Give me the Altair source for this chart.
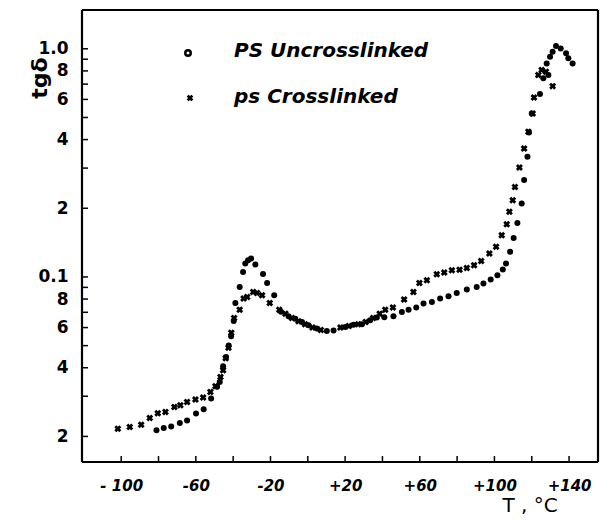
import altair as alt
import pandas as pd

# ---- data ----
unc_T = [-81.1, -77.2, -73.2, -68.6, -64.7, -59.9, -55.8, -51.8, -48.6, -47.2, -45.4, -43.8,
         -42.4, -41.1, -39.7, -38.8, -36.5, -34.7, -33.5, -32.0, -30.4, -28.1, -24.0, -21.8,
         -18.0, -14.4, -10.3, -6.7, -3.1, 0.4, 4.9, 10.2, 13.8, 20.1, 24.5, 29.0, 33.4, 37.0,
         41.0, 45.9, 50.4, 54.0, 58.1, 62.0, 66.5, 70.9, 75.4, 79.8, 85.2, 90.5, 94.1, 98.0,
         101.6, 104.5, 106.2, 108.4, 110.3, 112.3, 114.6, 115.9, 117.7, 118.5, 120.0, 124.4,
         126.2, 128.9, 128.0, 129.8, 131.2, 133.0, 135.5, 138.4, 139.6, 141.9]
unc_v = [0.0213, 0.0218, 0.0221, 0.0229, 0.0235, 0.0252, 0.0263, 0.0293, 0.0330, 0.0346, 0.0406, 0.0446,
         0.0501, 0.0549, 0.0641, 0.0769, 0.0904, 0.105, 0.1145, 0.1183, 0.1204, 0.1133, 0.1030, 0.0941,
         0.0831, 0.0703, 0.0672, 0.0656, 0.0635, 0.0614, 0.0594, 0.0580, 0.0583, 0.0604, 0.0618, 0.0621, 0.0646, 0.0664,
         0.0665, 0.0672, 0.0702, 0.0719, 0.0734, 0.0764, 0.0777, 0.0804, 0.0823, 0.0851, 0.0881, 0.0904, 0.0935, 0.0975,
         0.1017, 0.1077, 0.1145, 0.129, 0.148, 0.1725, 0.210, 0.266, 0.336, 0.43, 0.521, 0.633,
         0.742, 0.767, 0.863, 0.922, 0.970, 1.028, 1.004, 0.955, 0.908, 0.863]

cl_T = [-101.8, -95.4, -89.3, -84.7, -80.4, -76.3, -71.5, -68.3, -64.7, -60.2, -56.1, -52.2,
        -49.5, -46.8, -45.4, -44.0, -42.5, -41.0, -39.5, -36.5, -34.4, -32.5, -29.3, -27.2,
        -24.5, -20.4, -15.3, -12.0, -8.5, -5.0, -1.5, 2.5, 7.0, 17.5, 22.0, 27.0, 31.0, 35.0,
        38.5, 41.5, 45.6, 51.6, 56.6, 59.8, 63.8, 69.1, 73.1, 77.2, 81.3, 85.2, 89.1, 92.9,
        97.3, 100.9, 103.9, 106.6, 108.0, 109.8, 111.0, 113.4, 115.9, 118.2, 120.5, 121.2,
        123.5, 125.3, 127.6, 131.2]
cl_v = [0.0216, 0.0220, 0.0225, 0.0241, 0.0253, 0.0256, 0.0269, 0.0274, 0.0283, 0.0290, 0.0296, 0.0313,
        0.0332, 0.0364, 0.0390, 0.0440, 0.0490, 0.0570, 0.0660, 0.0719, 0.0804, 0.0817, 0.0859, 0.0851,
        0.0831, 0.0769, 0.0719, 0.0690, 0.0660, 0.0640, 0.0620, 0.0600, 0.0585, 0.0600, 0.0610, 0.0620, 0.0635, 0.0660,
        0.0690, 0.0719, 0.0734, 0.0796, 0.0859, 0.0941, 0.0967, 0.1028, 0.1045, 0.1070, 0.1076, 0.1095, 0.1125, 0.1175,
        0.1267, 0.1355, 0.1524, 0.170, 0.193, 0.217, 0.248, 0.302, 0.366, 0.433, 0.52, 0.612,
        0.767, 0.807, 0.793, 0.686]

x_tick_values = [-100, -80, -60, -40, -20, 0, 20, 40, 60, 80, 100, 120, 140]
x_label_values = [-100, -60, -20, 20, 60, 100, 140]
x_label_text = ["- 100", "-60", "-20", "+20", "+60", "+100", "+140"]
y_tick_values = [0.02, 0.03, 0.04, 0.05, 0.06, 0.07, 0.08, 0.09, 0.1,
                 0.2, 0.3, 0.4, 0.5, 0.6, 0.7, 0.8, 0.9, 1.0]
y_label_values = [0.02, 0.04, 0.06, 0.08, 0.1, 0.2, 0.4, 0.6, 0.8, 1.0]
y_label_text = ["2", "4", "6", "8", "0.1", "2", "4", "6", "8", "1.0"]

W, H = 516, 452
FONT = "DejaVu Sans"

xscale = alt.Scale(domain=[-121, 155.5], nice=False, zero=False)
yscale = alt.Scale(type="log", domain=[0.01545, 1.479], nice=False)


def label_expr(values, texts):
    expr = "''"
    for v, t in zip(values, texts):
        expr = f"abs(datum.value - ({v})) < {abs(v) * 1e-3 + 1e-6} ? '{t}' : ({expr})"
    return expr


df_unc = pd.DataFrame({"T": unc_T, "v": unc_v})
df_cl = pd.DataFrame({"T": cl_T, "v": cl_v})

x_axis = alt.Axis(values=x_label_values, labelExpr=label_expr(x_label_values, x_label_text),
                  ticks=False, domain=False, grid=False, title=None, labelFont=FONT,
                  labelFontSize=15, labelFontStyle="italic", labelFontWeight="bold",
                  labelPadding=16, labelColor="black")
y_axis = alt.Axis(values=y_label_values, labelExpr=label_expr(y_label_values, y_label_text),
                  ticks=False, domain=False, grid=False, title=None, labelFont=FONT,
                  labelFontSize=17, labelFontWeight="bold", labelPadding=14, labelColor="black")

unc = alt.Chart(df_unc).mark_point(shape="circle", filled=True, color="black", size=36, opacity=1).encode(
    x=alt.X("T:Q", scale=xscale, axis=x_axis),
    y=alt.Y("v:Q", scale=yscale, axis=y_axis),
)
cl = alt.Chart(df_cl).mark_point(shape="cross", angle=45, filled=True, color="black", size=50, opacity=1).encode(
    x=alt.X("T:Q", scale=xscale, axis=x_axis),
    y=alt.Y("v:Q", scale=yscale, axis=y_axis),
)

xt = alt.Chart(pd.DataFrame({"T": x_tick_values})).mark_rule(color="black", strokeWidth=1.5).encode(
    x=alt.X("T:Q", scale=xscale, axis=x_axis),
    y=alt.value(H), y2=alt.value(H - 6),
)
yt = alt.Chart(pd.DataFrame({"v": y_tick_values})).mark_rule(color="black", strokeWidth=1.5).encode(
    y=alt.Y("v:Q", scale=yscale, axis=y_axis),
    x=alt.value(0), x2=alt.value(6),
)

one = alt.Data(values=[{}])


def frame_line(x, x2, y, y2):
    return alt.Chart(one).mark_rule(color="black", strokeWidth=2.2).encode(
        x=alt.value(x), x2=alt.value(x2), y=alt.value(y), y2=alt.value(y2))


def txt(text, x, y, size, angle=0, style="normal", weight="bold", align="left"):
    return alt.Chart(one).mark_text(text=text, font=FONT, fontSize=size, fontStyle=style,
                                    fontWeight=weight, angle=angle, align=align,
                                    baseline="middle", color="black").encode(
        x=alt.value(x), y=alt.value(y))


leg_o = alt.Chart(one).mark_point(shape="circle", filled=False, color="black", size=30,
                                  strokeWidth=2.5, opacity=1).encode(x=alt.value(106), y=alt.value(43))
leg_x = alt.Chart(one).mark_point(shape="cross", angle=45, filled=True, color="black", size=45,
                                  opacity=1).encode(x=alt.value(108), y=alt.value(88))

chart = alt.layer(
    unc, cl, xt, yt,
    frame_line(0, W, 0, 0), frame_line(0, W, H, H),
    frame_line(0, 0, 0, H), frame_line(W, W, 0, H),
    leg_o, txt("PS  Uncrosslinked", 152, 41, 20, style="italic"),
    leg_x, txt("ps  Crosslinked", 152, 87, 20, style="italic"),
    txt("tgδ", -42, 68, 22, angle=270, align="center"),
    txt("T , °C", 448, 496, 20, weight="normal", align="center"),
).properties(
    width=W, height=H,
    autosize=alt.AutoSizeParams(type="none"),
    padding={"left": 82, "top": 10, "right": 5, "bottom": 61},
).configure_view(stroke=None).configure(background="white")

chart.save("out.html", embed_options={"renderer": "svg", "actions": False})
